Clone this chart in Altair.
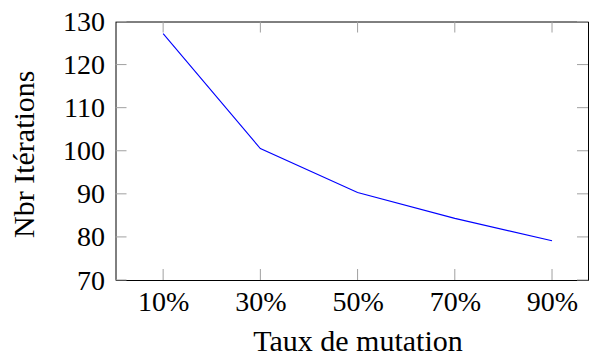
import altair as alt
import pandas as pd

# data
taux = [10, 30, 50, 70, 90]
iterations = [127.2, 100.5, 90.3, 84.3, 79.1]
x_ticks = [10, 30, 50, 70, 90]
y_ticks = [70, 80, 90, 100, 110, 120, 130]

W, H = 472.5, 258.5
TL = 11  # inner tick length
FONT = "Liberation Serif"

xscale = alt.Scale(domain=[0.2, 97.4], nice=False, zero=False)
yscale = alt.Scale(domain=[70, 130], nice=False, zero=False)

df = pd.DataFrame({"taux": taux, "it": iterations})
dx = pd.DataFrame({"t": x_ticks})
dy = pd.DataFrame({"v": y_ticks})

xaxis = alt.Axis(values=x_ticks, labelExpr="datum.value + '%'",
                 title="Taux de mutation", titleX=242, titleAlign="center",
                 titleY=70.5, titleBaseline="alphabetic", labelPadding=8)
yaxis = alt.Axis(values=y_ticks, title="Nbr Itérations",
                 titleX=-82.5, titleY=H / 2 + 3,
                 titleBaseline="alphabetic", labelPadding=11, labelOffset=1)

line = alt.Chart(df).mark_line(color="#0000ff", strokeWidth=1.1).encode(
    x=alt.X("taux:Q", scale=xscale, axis=xaxis),
    y=alt.Y("it:Q", scale=yscale, axis=yaxis),
)

tick_color = "#a0a0a0"
yt_left = alt.Chart(dy).mark_rule(color=tick_color, strokeWidth=1).encode(
    y=alt.Y("v:Q", scale=yscale), x=alt.value(0), x2=alt.value(TL))
yt_right = alt.Chart(dy).mark_rule(color=tick_color, strokeWidth=1).encode(
    y=alt.Y("v:Q", scale=yscale), x=alt.value(W - TL), x2=alt.value(W))
xt_top = alt.Chart(dx).mark_rule(color=tick_color, strokeWidth=1).encode(
    x=alt.X("t:Q", scale=xscale), y=alt.value(0), y2=alt.value(TL))
xt_bot = alt.Chart(dx).mark_rule(color=tick_color, strokeWidth=1).encode(
    x=alt.X("t:Q", scale=xscale), y=alt.value(H - TL), y2=alt.value(H))

chart = alt.layer(line, yt_left, yt_right, xt_top, xt_bot).properties(
    width=W, height=H,
    autosize=alt.AutoSizeParams(type="none"),
    padding={"left": 107.5, "top": 13.5, "right": 1, "bottom": 76},
).configure(
    font=FONT
).configure_view(
    stroke="black", strokeWidth=1
).configure_axis(
    grid=False, ticks=False, domain=False,
    labelFont=FONT, titleFont=FONT,
    labelFontSize=28, titleFontSize=30, titleFontWeight="normal",
    labelColor="black", titleColor="black",
)

chart.save("out.html", embed_options={"renderer": "svg", "actions": False})
